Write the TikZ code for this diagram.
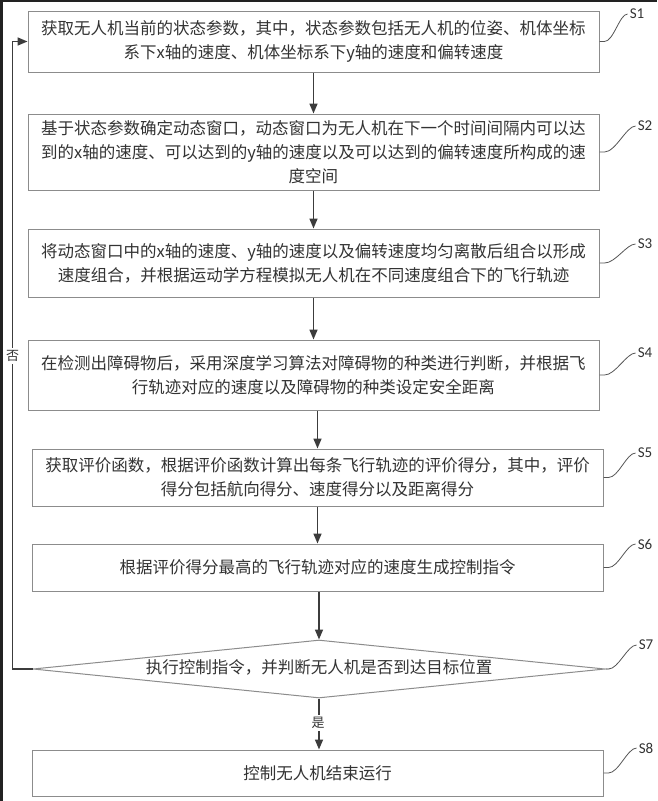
\documentclass[tikz,border=0pt]{standalone}
\usepackage{fontspec}
\setmainfont{Noto Sans CJK SC}
\newfontfamily\cjk{Noto Sans CJK SC}
\newfontfamily\labfont{Carlito}
\usetikzlibrary{arrows.meta,shapes.geometric}
\definecolor{txt}{HTML}{333333}
\definecolor{boxc}{HTML}{8C8C8C}
\definecolor{linec}{HTML}{3C3C3C}
\definecolor{leadc}{HTML}{555555}
\definecolor{framec}{HTML}{222222}
\begin{document}
\begin{tikzpicture}[x=1pt,y=-1pt,
  box/.style={draw=boxc, line width=1pt, minimum width=571pt, inner sep=0pt, align=center, text=txt, font=\cjk\fontsize{16.5}{24}\selectfont},
  arr/.style={draw=linec, line width=1.6pt, -{Triangle[length=10pt,width=8pt]}},
  lead/.style={draw=leadc, line width=0.8pt},
  lab/.style={font=\labfont\fontsize{15}{15}\selectfont, text=txt, inner sep=2pt},
  yn/.style={fill=white, inner sep=2pt, font=\cjk\fontsize{13}{13}\selectfont, text=txt}]
\useasboundingbox (0,0) rectangle (657,801);
\fill[white] (0,0) rectangle (657,801);
\draw[framec, line width=3pt] (1.5,0) -- (1.5,801);
\draw[framec, line width=1.5pt] (0,0.75) -- (657,0.75);

\node[box, minimum height=61pt] (S1) at (313.5,41.5) {获取无人机当前的状态参数，其中，状态参数包括无人机的位姿、机体坐标\\系下x轴的速度、机体坐标系下y轴的速度和偏转速度};
\node[box, minimum height=76pt] (S2) at (313.5,152) {基于状态参数确定动态窗口，动态窗口为无人机在下一个时间间隔内可以达\\到的x轴的速度、可以达到的y轴的速度以及可以达到的偏转速度所构成的速\\度空间};
\node[box, minimum height=68pt] (S3) at (313.5,263) {将动态窗口中的x轴的速度、y轴的速度以及偏转速度均匀离散后组合以形成\\速度组合，并根据运动学方程模拟无人机在不同速度组合下的飞行轨迹};
\node[box, minimum height=70pt] (S4) at (313.5,375) {在检测出障碍物后，采用深度学习算法对障碍物的种类进行判断，并根据飞\\行轨迹对应的速度以及障碍物的种类设定安全距离};
\node[box, minimum height=57pt] (S5) at (317.5,477.5) {获取评价函数，根据评价函数计算出每条飞行轨迹的评价得分，其中，评价\\得分包括航向得分、速度得分以及距离得分};
\node[box, minimum height=47pt] (S6) at (317.5,567.5) {根据评价得分最高的飞行轨迹对应的速度生成控制指令};
\node[diamond, draw=boxc, line width=1pt, minimum width=572pt, minimum height=58pt, inner sep=0pt] (S7) at (319,669) {};
\node[text=txt, font=\cjk\fontsize{16.5}{24}\selectfont] (S7t) at (319,667) {执行控制指令，并判断无人机是否到达目标位置};
\node[box, minimum height=46pt] (S8) at (317.5,773) {控制无人机结束运行};

\draw[arr] (S1) -- (S2);
\draw[arr] (S2) -- (S3);
\draw[arr] (S3) -- (S4);
\draw[arr] (S4.south -| S5.north) -- (S5.north);
\draw[arr] (S5.south -| S6.north) -- (S6.north);
\draw[arr] (S6.south -| S7.north) -- (S7.north);
\draw[arr] (S7.south) -- (S7.south |- S8.north);
\draw[arr] (S7.west) -- ++(-20,0) |- (S1.west);
\node[yn] (no) at (12.5,356) {否};
\node[yn] (yes) at (318,723) {是};

\node[lab] (L1) at (637,14) {S1};
\node[lab] (L2) at (645,126) {S2};
\node[lab] (L3) at (645,244) {S3};
\node[lab] (L4) at (645,353) {S4};
\node[lab] (L5) at (645,453) {S5};
\node[lab] (L6) at (645,544) {S6};
\node[lab] (L7) at (646,645) {S7};
\node[lab] (L8) at (646,748) {S8};

\draw[lead] (S1.east) -- ++(5,0) .. controls +(9,0) and +(-8,0) .. (L1.west);
\draw[lead] (S2.east) -- ++(5,0) .. controls +(11,0) and +(-9,0) .. (L2.west);
\draw[lead] (S3.east) -- ++(5,0) .. controls +(11,0) and +(-9,0) .. (L3.west);
\draw[lead] (S4.east) -- ++(5,0) .. controls +(11,0) and +(-9,0) .. (L4.west);
\draw[lead] (S5.east) -- ++(5,0) .. controls +(10,0) and +(-9,0) .. (L5.west);
\draw[lead] (S6.east) -- ++(5,0) .. controls +(10,0) and +(-9,0) .. (L6.west);
\draw[lead] (S7.east) -- ++(3,0) .. controls +(10,0) and +(-9,0) .. (L7.west);
\draw[lead] (S8.east) -- ++(5,0) .. controls +(10,0) and +(-9,0) .. (L8.west);
\end{tikzpicture}
\end{document}
